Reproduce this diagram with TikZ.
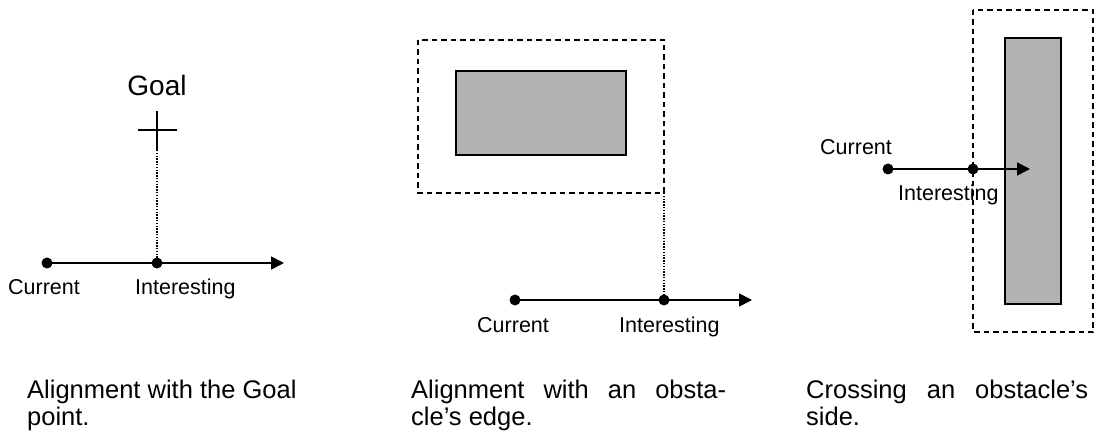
\documentclass[tikz,border=0pt]{standalone}
\usepackage{fontspec}
\setmainfont{Liberation Sans}
\usetikzlibrary{arrows.meta}
\begin{document}
\begin{tikzpicture}[x=1pt,y=-1pt,
  dotnode/.style={circle,fill=black,inner sep=0pt,minimum size=11pt},
  pathline/.style={line width=1.8pt,-{Triangle[length=13pt,width=13pt]}},
  align line/.style={line width=1.4pt,dash pattern=on 1.4pt off 1.4pt},
  margin box/.style={line width=1.4pt,dash pattern=on 5.5pt off 4pt},
  obstacle/.style={draw,line width=2pt,fill=black!30},
  lbl/.style={anchor=base west,inner sep=0pt,font=\fontsize{21.5}{26}\selectfont},
  captext/.style={anchor=base west,inner sep=0pt,font=\fontsize{25.5}{28}\selectfont}]
\useasboundingbox (0,0) rectangle (1095,438);
% ---------- panel 1 ----------
\node[anchor=base,inner sep=0pt,font=\fontsize{28}{32}\selectfont] (goal) at (157,96) {Goal};
\coordinate (gl) at (137.5,130);
\coordinate (gr) at (176.5,130);
\coordinate (gt) at (157,111);
\coordinate (gb) at (157,150);
\draw[line width=1.3pt] (gl) -- (gr) (gt) -- (gb);
\node[dotnode] (c1) at (47,263) {};
\node[dotnode] (i1) at (157,263) {};
\coordinate (t1) at (284,263);
\draw[align line] (gb) -- (i1.center);
\draw[pathline] (c1.center) -- (t1);
\node[lbl] (lc1) at (8,295) {Current};
\node[lbl] (li1) at (135,295) {Interesting};
% ---------- panel 2 ----------
\draw[margin box] (418,40) rectangle (664,193);
\draw[obstacle] (456,71) rectangle (626,155);
\coordinate (corner2) at (664,193);
\node[dotnode] (c2) at (515,300) {};
\node[dotnode] (i2) at (664,300) {};
\coordinate (t2) at (752,300);
\draw[align line] (corner2) -- (i2.center);
\draw[pathline] (c2.center) -- (t2);
\node[lbl] (lc2) at (477,332) {Current};
\node[lbl] (li2) at (619,332) {Interesting};
% ---------- panel 3 ----------
\draw[margin box] (973,10) rectangle (1093,332);
\draw[obstacle] (1005,38) rectangle (1061,304);
\node[dotnode] (c3) at (888,169) {};
\node[dotnode] (i3) at (973,169) {};
\coordinate (t3) at (1030,169);
\draw[pathline] (c3.center) -- (t3);
\node[lbl] (lc3) at (820,155) {Current};
\node[lbl] (li3) at (898,201) {Interesting};
% ---------- captions ----------
\node[captext] (cap1a) at (27,398) {Alignment with the Goal};
\node[captext] (cap1b) at (27,425) {point.};
\node[captext] (cap2a) at (411,398) {\makebox[315pt][s]{Alignment with an obsta-}};
\node[captext] (cap2b) at (411,425) {cle’s edge.};
\node[captext] (cap3a) at (806,398) {\makebox[282pt][s]{Crossing an obstacle’s}};
\node[captext] (cap3b) at (806,425) {side.};
\end{tikzpicture}
\end{document}
